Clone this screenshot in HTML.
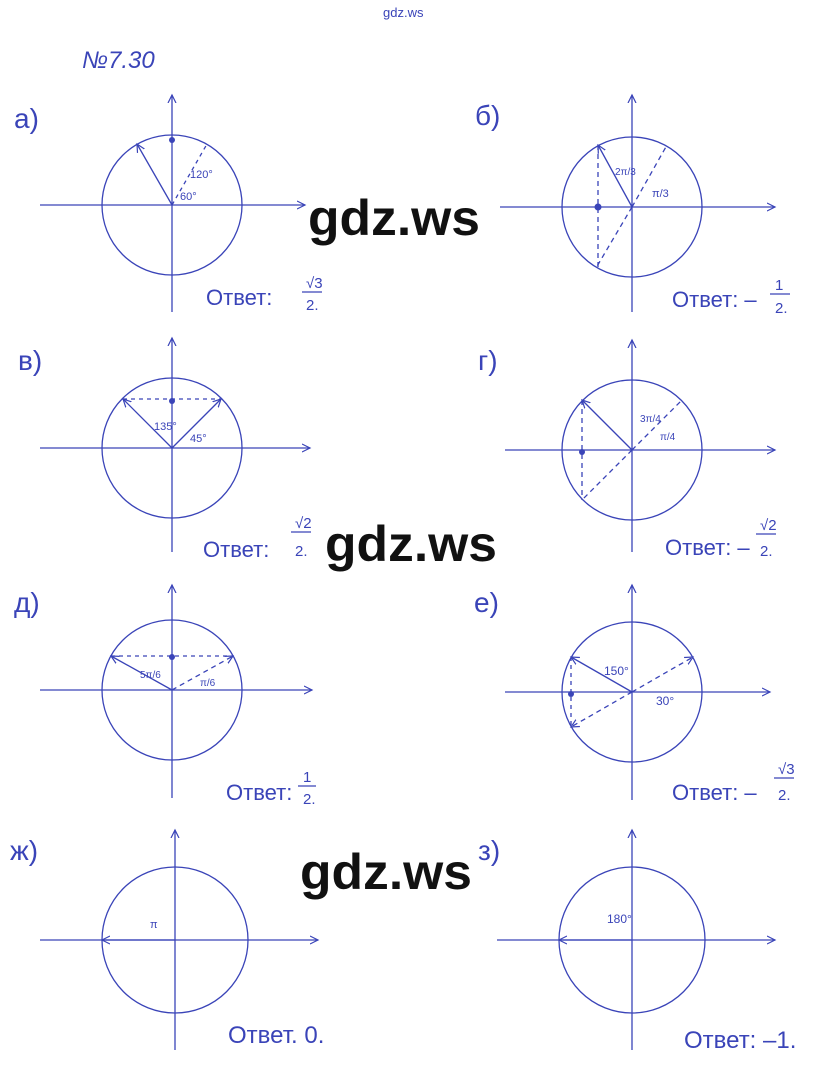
<!DOCTYPE html>
<html><head><meta charset="utf-8"><style>
html,body{margin:0;padding:0;background:#fff}
svg{display:block}
.p{stroke:#3a44b8;fill:none;stroke-width:1.3}
.t{fill:#3a44b8;font-family:"Liberation Sans",sans-serif}
.w{fill:#111;font-family:"Liberation Sans",sans-serif;font-weight:bold;font-size:50px}
</style></head><body>
<svg width="820" height="1071" viewBox="0 0 820 1071">
<defs><marker id="a" markerWidth="10" markerHeight="10" refX="8" refY="5" orient="auto" markerUnits="userSpaceOnUse"><path d="M0,1 L8,5 L0,9" fill="none" stroke="#3a44b8" stroke-width="1.2"/></marker></defs>
<text x="383" y="17" class="t" font-size="13">gdz.ws</text>
<text x="82" y="68" class="t" font-size="24" font-style="italic">№7.30</text>

<!-- a -->
<text x="14" y="128" class="t" font-size="28">а)</text>
<line class="p" x1="40" y1="205" x2="305" y2="205" marker-end="url(#a)"/>
<line class="p" x1="172" y1="312" x2="172" y2="95" marker-end="url(#a)"/>
<circle class="p" cx="172" cy="205" r="70"/>
<line class="p" x1="172" y1="205" x2="137" y2="144" marker-end="url(#a)" stroke-width="2"/>
<line class="p" x1="172" y1="205" x2="207" y2="144" stroke-dasharray="4,4"/>
<circle cx="172" cy="140" r="3" fill="#3a44b8"/>
<text x="190" y="178" class="t" font-size="11">120°</text>
<text x="180" y="200" class="t" font-size="11">60°</text>
<text x="206" y="305" class="t" font-size="22">Ответ: </text>
<text x="306" y="288" class="t" font-size="15">√3</text><line class="p" x1="302" y1="292" x2="322" y2="292"/><text x="306" y="310" class="t" font-size="15">2.</text>

<!-- b -->
<text x="475" y="125" class="t" font-size="28">б)</text>
<line class="p" x1="500" y1="207" x2="775" y2="207" marker-end="url(#a)"/>
<line class="p" x1="632" y1="312" x2="632" y2="95" marker-end="url(#a)"/>
<circle class="p" cx="632" cy="207" r="70"/>
<line class="p" x1="632" y1="207" x2="598" y2="145" marker-end="url(#a)" stroke-width="2"/>
<line class="p" x1="632" y1="207" x2="667" y2="145" stroke-dasharray="5,4"/>
<line class="p" x1="632" y1="207" x2="596" y2="268" stroke-dasharray="5,4"/>
<line class="p" x1="598" y1="145" x2="598" y2="268" stroke-dasharray="5,4"/>
<circle cx="598" cy="207" r="3.5" fill="#3a44b8"/>
<text x="615" y="175" class="t" font-size="10">2π/3</text>
<text x="652" y="197" class="t" font-size="11">π/3</text>
<text x="672" y="307" class="t" font-size="22">Ответ: –</text>
<text x="775" y="290" class="t" font-size="15">1</text><line class="p" x1="770" y1="294" x2="790" y2="294"/><text x="775" y="313" class="t" font-size="15">2.</text>

<!-- v -->
<text x="18" y="370" class="t" font-size="28">в)</text>
<line class="p" x1="40" y1="448" x2="310" y2="448" marker-end="url(#a)"/>
<line class="p" x1="172" y1="552" x2="172" y2="338" marker-end="url(#a)"/>
<circle class="p" cx="172" cy="448" r="70"/>
<line class="p" x1="172" y1="448" x2="123" y2="399" marker-end="url(#a)" stroke-width="2"/>
<line class="p" x1="172" y1="448" x2="221" y2="399" marker-end="url(#a)"/>
<line class="p" x1="123" y1="399" x2="221" y2="399" stroke-dasharray="4,4"/>
<circle cx="172" cy="401" r="3" fill="#3a44b8"/>
<text x="154" y="430" class="t" font-size="11">135°</text>
<text x="190" y="442" class="t" font-size="11">45°</text>
<text x="203" y="557" class="t" font-size="22">Ответ: </text>
<text x="295" y="528" class="t" font-size="15">√2</text><line class="p" x1="291" y1="532" x2="311" y2="532"/><text x="295" y="556" class="t" font-size="15">2.</text>

<!-- g -->
<text x="478" y="370" class="t" font-size="28">г)</text>
<line class="p" x1="505" y1="450" x2="775" y2="450" marker-end="url(#a)"/>
<line class="p" x1="632" y1="552" x2="632" y2="340" marker-end="url(#a)"/>
<circle class="p" cx="632" cy="450" r="70"/>
<line class="p" x1="632" y1="450" x2="582" y2="400" marker-end="url(#a)" stroke-width="2"/>
<line class="p" x1="632" y1="450" x2="682" y2="400" stroke-dasharray="5,4"/>
<line class="p" x1="632" y1="450" x2="582" y2="500" stroke-dasharray="5,4"/>
<line class="p" x1="582" y1="400" x2="582" y2="500" stroke-dasharray="5,4"/>
<circle cx="582" cy="452" r="3" fill="#3a44b8"/>
<text x="640" y="422" class="t" font-size="10">3π/4</text>
<text x="660" y="440" class="t" font-size="10">π/4</text>
<text x="665" y="555" class="t" font-size="22">Ответ: –</text>
<text x="760" y="530" class="t" font-size="15">√2</text><line class="p" x1="756" y1="534" x2="776" y2="534"/><text x="760" y="556" class="t" font-size="15">2.</text>

<!-- d -->
<text x="14" y="612" class="t" font-size="28">д)</text>
<line class="p" x1="40" y1="690" x2="312" y2="690" marker-end="url(#a)"/>
<line class="p" x1="172" y1="798" x2="172" y2="585" marker-end="url(#a)"/>
<circle class="p" cx="172" cy="690" r="70"/>
<line class="p" x1="172" y1="690" x2="111" y2="656" marker-end="url(#a)" stroke-width="2"/>
<line class="p" x1="172" y1="690" x2="233" y2="656" stroke-dasharray="5,4" marker-end="url(#a)"/>
<line class="p" x1="111" y1="656" x2="233" y2="656" stroke-dasharray="4,4"/>
<circle cx="172" cy="657" r="3" fill="#3a44b8"/>
<text x="140" y="678" class="t" font-size="10">5π/6</text>
<text x="200" y="686" class="t" font-size="10">π/6</text>
<text x="226" y="800" class="t" font-size="22">Ответ: </text>
<text x="303" y="782" class="t" font-size="15">1</text><line class="p" x1="298" y1="786" x2="316" y2="786"/><text x="303" y="804" class="t" font-size="15">2.</text>

<!-- e -->
<text x="474" y="612" class="t" font-size="28">е)</text>
<line class="p" x1="505" y1="692" x2="770" y2="692" marker-end="url(#a)"/>
<line class="p" x1="632" y1="800" x2="632" y2="585" marker-end="url(#a)"/>
<circle class="p" cx="632" cy="692" r="70"/>
<line class="p" x1="632" y1="692" x2="571" y2="657" marker-end="url(#a)" stroke-width="2"/>
<line class="p" x1="632" y1="692" x2="693" y2="657" stroke-dasharray="5,4" marker-end="url(#a)"/>
<line class="p" x1="632" y1="692" x2="571" y2="727" stroke-dasharray="5,4" marker-end="url(#a)"/>
<line class="p" x1="571" y1="657" x2="571" y2="727" stroke-dasharray="4,4"/>
<circle cx="571" cy="694" r="3" fill="#3a44b8"/>
<text x="604" y="675" class="t" font-size="12">150°</text>
<text x="656" y="705" class="t" font-size="12">30°</text>
<text x="672" y="800" class="t" font-size="22">Ответ: –</text>
<text x="778" y="774" class="t" font-size="15">√3</text><line class="p" x1="774" y1="778" x2="794" y2="778"/><text x="778" y="800" class="t" font-size="15">2.</text>

<!-- zh -->
<text x="10" y="860" class="t" font-size="28">ж)</text>
<line class="p" x1="40" y1="940" x2="318" y2="940" marker-end="url(#a)"/>
<line class="p" x1="175" y1="1050" x2="175" y2="830" marker-end="url(#a)"/>
<circle class="p" cx="175" cy="940" r="73"/>
<line class="p" x1="175" y1="940" x2="102" y2="940" marker-end="url(#a)" stroke-width="2.2"/>
<text x="150" y="928" class="t" font-size="11">π</text>
<text x="228" y="1043" class="t" font-size="24">Ответ. 0.</text>

<!-- z -->
<text x="478" y="860" class="t" font-size="28">з)</text>
<line class="p" x1="497" y1="940" x2="775" y2="940" marker-end="url(#a)"/>
<line class="p" x1="632" y1="1050" x2="632" y2="830" marker-end="url(#a)"/>
<circle class="p" cx="632" cy="940" r="73"/>
<line class="p" x1="632" y1="940" x2="559" y2="940" marker-end="url(#a)" stroke-width="2.2"/>
<text x="607" y="923" class="t" font-size="12">180°</text>
<text x="684" y="1048" class="t" font-size="24">Ответ: –1.</text>

<text x="308" y="235" class="w" textLength="172" lengthAdjust="spacingAndGlyphs">gdz.ws</text>
<text x="325" y="561" class="w" textLength="172" lengthAdjust="spacingAndGlyphs">gdz.ws</text>
<text x="300" y="889" class="w" textLength="172" lengthAdjust="spacingAndGlyphs">gdz.ws</text>
</svg>
</body></html>
